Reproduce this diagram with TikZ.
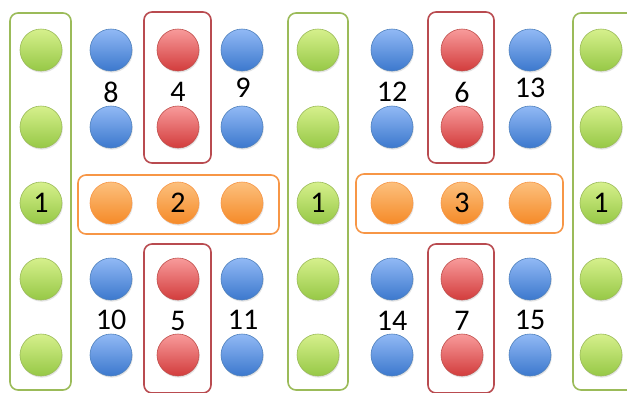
\documentclass[tikz,border=0pt]{standalone}
\usepackage{fontspec}
\setmainfont{Carlito}
\usetikzlibrary{shadows}
\definecolor{gborder}{HTML}{9BBB59}
\definecolor{gtop}{RGB}{214,240,140}
\definecolor{gbot}{RGB}{150,200,70}
\definecolor{bborder}{HTML}{4F81BD}
\definecolor{btop}{RGB}{145,185,245}
\definecolor{bbot}{RGB}{60,120,205}
\definecolor{rborder}{HTML}{C0504D}
\definecolor{rtop}{RGB}{248,155,155}
\definecolor{rbot}{RGB}{210,60,60}
\definecolor{oborder}{HTML}{F79646}
\definecolor{otop}{RGB}{252,192,125}
\definecolor{obot}{RGB}{245,138,40}
\definecolor{rbox}{RGB}{185,75,80}
\tikzset{
  ball/.style={circle, minimum size=42pt, inner sep=0pt, line width=0.6pt,
    font=\fontsize{30}{36}\selectfont,
    drop shadow={opacity=0.22, shadow xshift=0.8pt, shadow yshift=-1.6pt}},
  gball/.style={ball, draw=gborder, top color=gtop, bottom color=gbot},
  bball/.style={ball, draw=bborder, top color=btop, bottom color=bbot},
  rball/.style={ball, draw=rborder, top color=rtop, bottom color=rbot},
  oball/.style={ball, draw=oborder, top color=otop, bottom color=obot},
  lbl/.style={inner sep=0pt, font=\fontsize{30}{36}\selectfont},
  gbox/.style={draw=gborder, line width=1.6pt, rounded corners=8pt},
  rboxs/.style={draw=rbox, line width=1.6pt, rounded corners=8pt},
  oboxs/.style={draw=oborder, line width=1.6pt, rounded corners=8pt},
}
\begin{document}
\begin{tikzpicture}[x=1pt,y=-1pt]
\useasboundingbox (0,0) rectangle (627,392);
\clip (0,0) rectangle (627,392);
\fill[white] (0,0) rectangle (627,392);
% boxes
\draw[gbox] (10,13) rectangle (71,390);
\draw[gbox] (288,13) rectangle (348,390);
\draw[gbox] (573,13) rectangle (636,390);
\draw[rboxs] (144,12) rectangle (211,163);
\draw[rboxs] (428,12) rectangle (494,163);
\draw[rboxs] (144,244) rectangle (211,393);
\draw[rboxs] (428,244) rectangle (494,393);
\draw[oboxs] (78,175) rectangle (279,234);
\draw[oboxs] (356,174) rectangle (563,233);
% green columns
\foreach \c/\x in {a/41,b/318,c/601}{
  \node[gball] (g\c1) at (\x,50) {};
  \node[gball] (g\c2) at (\x,127) {};
  \node[gball] (g\c3) at (\x,203) {1};
  \node[gball] (g\c4) at (\x,279) {};
  \node[gball] (g\c5) at (\x,355) {};
}
% blue and red
\foreach \c/\bl/\rd/\br in {a/111/178/242,b/392/462/530}{
  \node[bball] (bl\c1) at (\bl,50) {};
  \node[bball] (bl\c2) at (\bl,127) {};
  \node[bball] (bl\c4) at (\bl,279) {};
  \node[bball] (bl\c5) at (\bl,355) {};
  \node[bball] (br\c1) at (\br,50) {};
  \node[bball] (br\c2) at (\br,127) {};
  \node[bball] (br\c4) at (\br,279) {};
  \node[bball] (br\c5) at (\br,355) {};
  \node[rball] (r\c1) at (\rd,50) {};
  \node[rball] (r\c2) at (\rd,127) {};
  \node[rball] (r\c4) at (\rd,279) {};
  \node[rball] (r\c5) at (\rd,355) {};
  \node[oball] (ol\c) at (\bl,203) {};
  \node[oball] (or\c) at (\br,203) {};
}
\node[oball] (oma) at (178,203) {2};
\node[oball] (omb) at (462,203) {3};
% labels
\node[lbl] (l8) at (111,92) {8};
\node[lbl] (l4) at (178,92) {4};
\node[lbl] (l9) at (243,88) {9};
\node[lbl] (l12) at (392,92) {12};
\node[lbl] (l6) at (462,92) {6};
\node[lbl] (l13) at (530,88) {13};
\node[lbl] (l10) at (111,320) {10};
\node[lbl] (l5) at (178,321) {5};
\node[lbl] (l11) at (243,320) {11};
\node[lbl] (l14) at (392,321) {14};
\node[lbl] (l7) at (462,321) {7};
\node[lbl] (l15) at (530,320) {15};
\end{tikzpicture}
\end{document}
